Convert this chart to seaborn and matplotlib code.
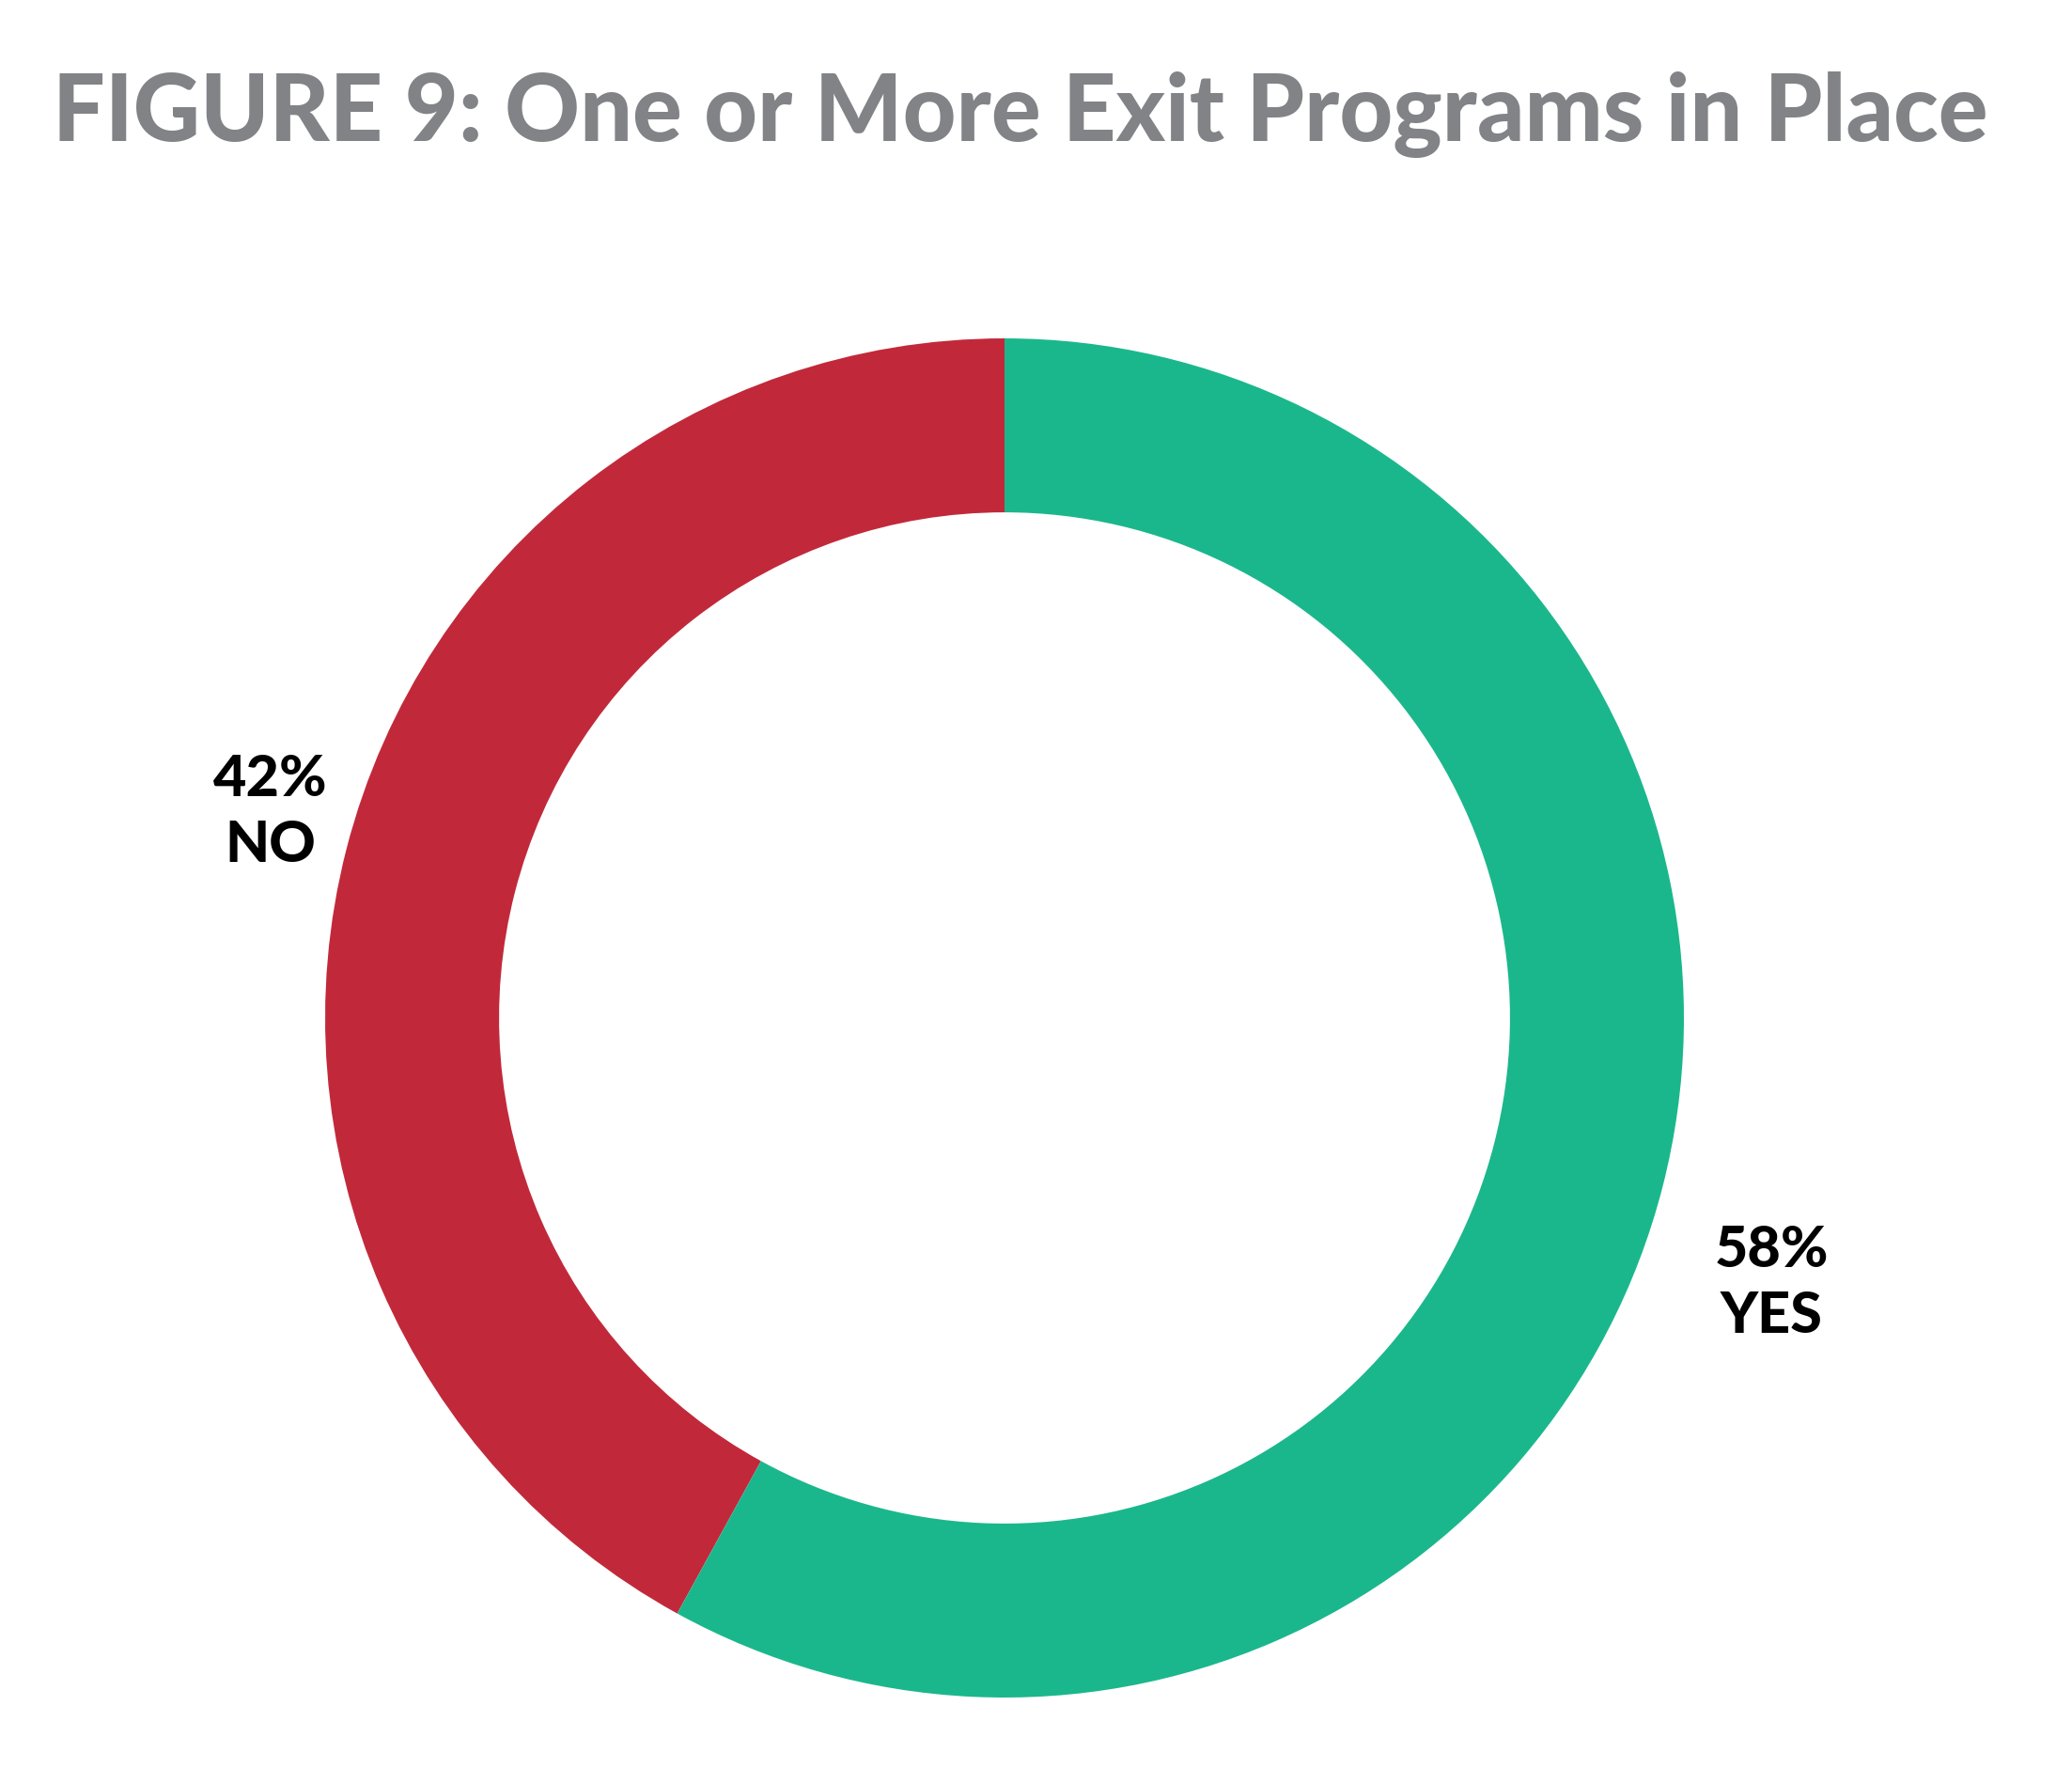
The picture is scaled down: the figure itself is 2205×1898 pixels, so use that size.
import matplotlib
matplotlib.use("Agg")
import matplotlib.pyplot as plt
import seaborn as sns

# ---- data ----
categories = ["NO", "YES"]
values = [42, 58]
pct_labels = ["42%", "58%"]
title_text = "FIGURE 9: One or More Exit Programs in Place"

sns.set_theme(style="white")
plt.rcParams['font.family'] = ['Lato', 'DejaVu Sans']

colors = sns.color_palette(["#C1293A", "#1BB78C"])

W, H = 2205, 1899
fig = plt.figure(figsize=(W / 100, H / 100), dpi=100)
fig.patch.set_facecolor("white")

cx, cy, R = 1069, 1084, 723
ax = fig.add_axes([(cx - R) / W, (H - cy - R) / H, 2 * R / W, 2 * R / H])
ax.pie(values, colors=colors, startangle=90, counterclock=True,
       radius=1.0, wedgeprops=dict(width=0.256, linewidth=0, edgecolor="none"))
ax.set_xlim(-1, 1)
ax.set_ylim(-1, 1)
ax.set_axis_off()

label_pos = [(-1.080, 0.304), (1.129, -0.389)]
for (x, y), p, c in zip(label_pos, pct_labels, categories):
    ax.text(x, y, f"{p}\n{c}", ha="center", va="center", fontsize=44,
            fontweight="black", color="black", linespacing=1.3, clip_on=False)

# title, fitted to the reference width
t = fig.text(56 / W, 1 - 122 / H, title_text, ha="left", va="center",
             fontsize=60, fontweight="black", color="#818386")
fig.canvas.draw()
bb = t.get_window_extent(renderer=fig.canvas.get_renderer())
t.set_fontsize(60 * 2061 / bb.width)

fig.savefig("out.png", dpi=100, facecolor="white")
